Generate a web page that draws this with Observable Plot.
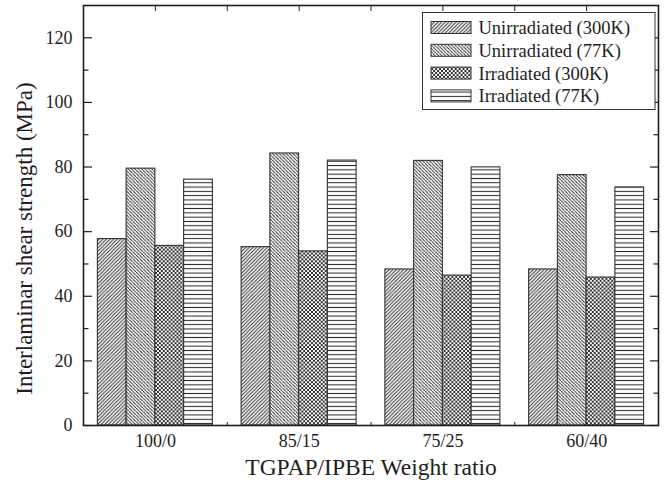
<!DOCTYPE html>
<html>
<head>
<meta charset="utf-8">
<script src="https://cdn.jsdelivr.net/npm/d3@7"></script>
<script src="https://cdn.jsdelivr.net/npm/@observablehq/plot@0.6"></script>
<style>
  html, body { margin: 0; padding: 0; background: #fff; }
  #chart { width: 667px; height: 486px; }
</style>
</head>
<body>
<div id="chart"></div>
<script>
// ---- data ----
const categories = ["100/0", "85/15", "75/25", "60/40"];
const seriesNames = ["Unirradiated (300K)", "Unirradiated (77K)", "Irradiated (300K)", "Irradiated (77K)"];
const unirradiated300K = [57.7, 55.2, 48.3, 48.3];
const unirradiated77K  = [79.5, 84.2, 81.9, 77.5];
const irradiated300K   = [55.6, 53.9, 46.4, 45.8];
const irradiated77K    = [76.1, 82.0, 79.9, 73.7];
const yTicks = [0, 20, 40, 60, 80, 100, 120];
const yMinorTicks = [10, 30, 50, 70, 90, 110];
const xLabel = "TGPAP/IPBE Weight ratio";
const yLabel = "Interlaminar shear strength (MPa)";

const seriesValues = [unirradiated300K, unirradiated77K, irradiated300K, irradiated77K];
const patternIds = ["pat-u300", "pat-u77", "pat-i300", "pat-i77"];

// group layout (in category units on a linear x scale)
const groupPad = 0.1;
const barW = (1 - 2 * groupPad) / seriesValues.length;

const font = "'Liberation Serif', 'Times New Roman', serif";
const ink = "#1e1e1e";

const barMarks = seriesValues.map((vals, s) =>
  Plot.rectY(vals, {
    x1: (d, i) => i + groupPad + s * barW,
    x2: (d, i) => i + groupPad + (s + 1) * barW,
    y1: 0,
    y2: d => d,
    fill: `url(#${patternIds[s]})`,
    stroke: "#333",
    strokeWidth: 1.1
  })
);

const catCenters = categories.map((c, i) => i + 0.5);
const topTicks = d3.range(0.5, categories.length, 0.5);
const bottomTicks = d3.range(1, categories.length, 1);

const chart = Plot.plot({
  width: 667,
  height: 486,
  marginLeft: 83,
  marginRight: 9,
  marginTop: 5,
  marginBottom: 61,
  style: { fontFamily: font, background: "#fff", color: ink },
  x: { type: "linear", domain: [0, categories.length], axis: null },
  y: { type: "linear", domain: [0, 130], axis: null },
  marks: [
    ...barMarks,
    Plot.axisY(yTicks, { anchor: "left", tickSize: -9, tickPadding: 20, fontSize: 18, label: null, stroke: ink, strokeWidth: 1.2, fill: ink }),
    Plot.axisY(yMinorTicks, { anchor: "left", tickSize: -5.5, tickFormat: () => "", label: null, stroke: ink, strokeWidth: 1.2 }),
    Plot.axisY(yTicks, { anchor: "right", tickSize: -9, tickFormat: () => "", label: null, stroke: ink, strokeWidth: 1.2 }),
    Plot.axisY(yMinorTicks, { anchor: "right", tickSize: -5.5, tickFormat: () => "", label: null, stroke: ink, strokeWidth: 1.2 }),
    Plot.axisX(catCenters, { anchor: "bottom", tickSize: 0, tickPadding: 9, tickFormat: d => categories[Math.round(d - 0.5)], fontSize: 18, label: null, fill: ink }),
    Plot.axisX(bottomTicks, { anchor: "bottom", tickSize: -3, tickFormat: () => "", label: null, stroke: ink }),
    Plot.axisX(topTicks, { anchor: "top", tickSize: -5, tickFormat: () => "", label: null, stroke: ink }),
    Plot.frame({ stroke: ink, strokeWidth: 1.6 }),
    Plot.text([xLabel], { frameAnchor: "bottom", dy: 42, lineAnchor: "middle", textAnchor: "middle", fontSize: 23.5, fill: ink }),
    Plot.text([yLabel], { frameAnchor: "left", dx: -59, dy: 23, rotate: -90, lineAnchor: "middle", textAnchor: "middle", fontSize: 23, fill: ink })
  ]
});

// ---- hatch patterns ----
const svg = d3.select(chart);
svg.selectAll("text").attr("font-family", font);
const defs = svg.insert("defs", ":first-child");
function addPattern(id, w, h, paths, sw) {
  const p = defs.append("pattern")
    .attr("id", id)
    .attr("patternUnits", "userSpaceOnUse")
    .attr("width", w).attr("height", h);
  p.append("rect").attr("width", w).attr("height", h).attr("fill", "#fff");
  p.append("path").attr("d", paths).attr("stroke", "#222").attr("stroke-width", sw).attr("fill", "none");
}
{
  const w = 3.6;
  addPattern("pat-u300", w, w, `M-1,1 l2,-2 M0,${w} l${w},${-w} M${w - 1},${w + 1} l2,-2`, 0.95);
}
{
  const w = 3.4;
  addPattern("pat-u77", w, w, `M1,-1 l-2,2 M0,0 l${w},${w} M${w + 1},${w - 1} l-2,2`, 0.95);
}
{
  const w = 3.9;
  addPattern("pat-i300", w, w,
    `M-1,1 l2,-2 M0,${w} l${w},${-w} M${w - 1},${w + 1} l2,-2 M1,-1 l-2,2 M0,0 l${w},${w} M${w + 1},${w - 1} l-2,2`, 0.95);
}
{
  const h = 4.3;
  addPattern("pat-i77", 4, h, `M-1,${h / 2} L5,${h / 2}`, 1);
}

// ---- legend ----
const lg = svg.append("g").attr("transform", "translate(422.5,12.5)");
lg.append("rect").attr("width", 232.5).attr("height", 97)
  .attr("fill", "#fff").attr("stroke", "#333").attr("stroke-width", 1);
seriesNames.forEach((name, i) => {
  const cy = 15 + i * 22.8;
  lg.append("rect").attr("x", 8.5).attr("y", cy - 6).attr("width", 40).attr("height", 12)
    .attr("fill", `url(#${patternIds[i]})`).attr("stroke", "#333").attr("stroke-width", 1);
  lg.append("text").attr("x", 56).attr("y", cy).attr("dy", "0.35em")
    .attr("text-anchor", "start")
    .attr("font-family", font).attr("font-size", 18.5).attr("fill", ink)
    .text(name);
});

document.getElementById("chart").appendChild(chart);
</script>
</body>
</html>
